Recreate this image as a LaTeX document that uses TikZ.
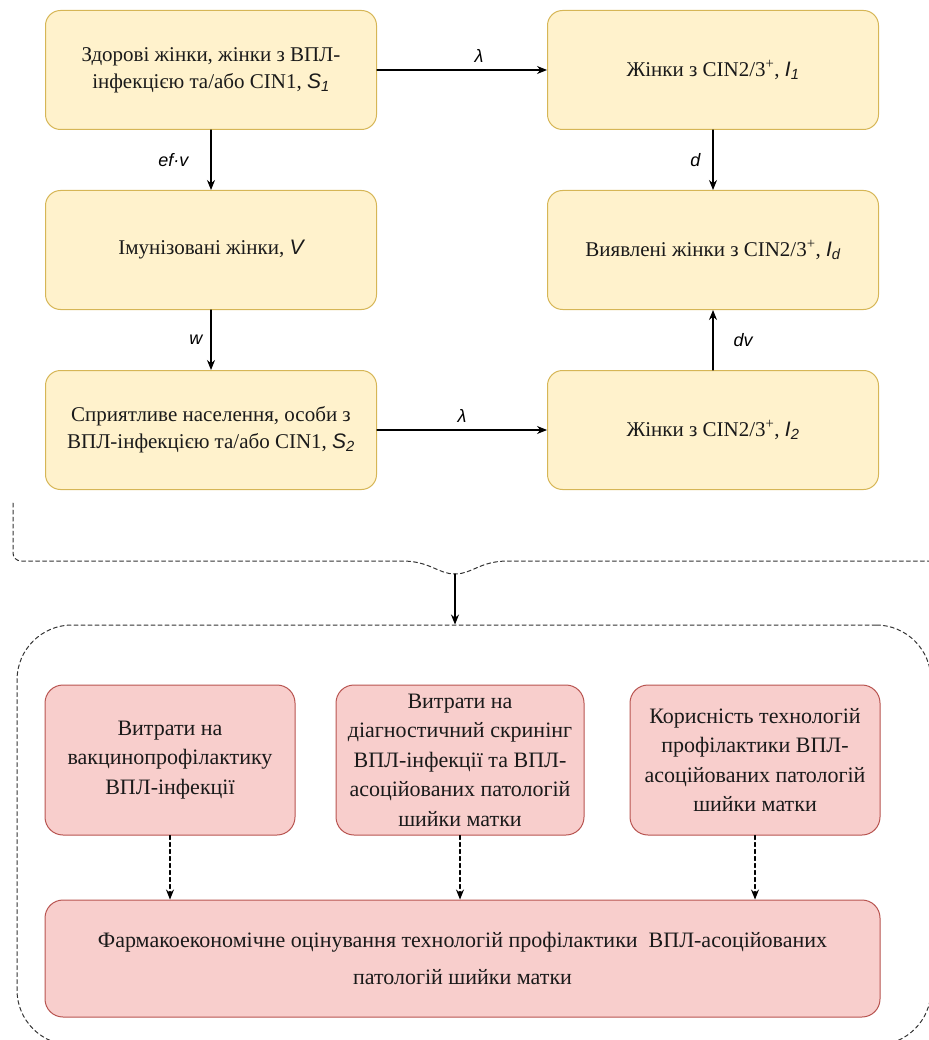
\documentclass[tikz,border=0pt]{standalone}
\usepackage{fontspec}
\setmainfont{Liberation Serif}
\setsansfont{Liberation Sans}
\usepackage{xcolor}
\usepackage{tikz}
\usetikzlibrary{arrows.meta}
\definecolor{stateFill}{HTML}{FFF2CC}
\definecolor{stateLine}{HTML}{D6B656}
\definecolor{costFill}{HTML}{F8CECC}
\definecolor{costLine}{HTML}{B85450}
\definecolor{modelInk}{HTML}{1A1A1A}
\newcommand{\cvar}[2]{{\sffamily\itshape #1\textsubscript{#2}}}

\begin{document}
\begin{tikzpicture}[x=1pt, y=-1pt, line cap=round, line join=round,
  stateBox/.style={draw=stateLine, fill=stateFill, line width=1pt, rounded corners=15pt,
    minimum width=331pt, minimum height=119pt, align=center, text=modelInk,
    font=\fontsize{21}{27}\selectfont},
  costBox/.style={draw=costLine, fill=costFill, line width=1pt, rounded corners=18pt,
    minimum width=250pt, minimum height=150pt, align=center, text=modelInk,
    font=\fontsize{22}{29.5}\selectfont},
  flow/.style={-{Stealth[length=10pt,width=8pt]}, line width=1.1pt},
  feed/.style={flow, dash pattern=on 4pt off 3pt},
  frameLine/.style={line width=1pt, dash pattern=on 4pt off 3pt, draw=black!80},
  rate/.style={font=\fontsize{18}{18}\selectfont\sffamily\itshape, inner sep=0pt}]
  \useasboundingbox (0,0) rectangle (928,1040);

  \node[stateBox] (healthy) at (211,70) {Здорові жінки, жінки з ВПЛ-\\інфекцією та/або CIN1, \cvar{S}{1}};
  \node[stateBox] (caseA) at (713,70) {Жінки з CIN2/3\textsuperscript{+}, \cvar{I}{1}};
  \node[stateBox] (immune) at (211,250) {Імунізовані жінки, {\sffamily\itshape V}};
  \node[stateBox] (found) at (713,250) {Виявлені жінки з CIN2/3\textsuperscript{+}, \cvar{I}{d}};
  \node[stateBox] (suscept) at (211,430) {Сприятливе населення, особи з\\ВПЛ-інфекцією та/або CIN1, \cvar{S}{2}};
  \node[stateBox] (caseB) at (713,430) {Жінки з CIN2/3\textsuperscript{+}, \cvar{I}{2}};

  \draw[flow] (healthy) -- node[rate, above=7pt, pos=0.6] {λ} (caseA);
  \draw[flow] (healthy) -- node[rate, left=22pt] {ef·v} (immune);
  \draw[flow] (immune) -- node[rate, left=8pt] {w} (suscept);
  \draw[flow] (caseA) -- node[rate, left=12pt] {d} (found);
  \draw[flow] (caseB) -- node[rate, right=20pt] {dv} (found);
  \draw[flow] (suscept) -- node[rate, above=7pt] {λ} (caseB);

  % brace under the model, then the evaluation frame
  \coordinate (braceTip) at (455,574);
  \draw[frameLine] (13,503) [rounded corners=8pt] -- (13,561) [sharp corners] -- (402,561)
    .. controls (430,561) and (438,574) .. (braceTip)
    .. controls (472,574) and (480,561) .. (508,561) -- (935,561);
  \node[frameLine, draw, rounded corners=55pt, minimum width=914pt, minimum height=420pt] (evalFrame) at (474,835) {};
  \draw[flow] (braceTip) -- (evalFrame.north -| braceTip);

  \node[costBox] (vaccCost) at (170,760) {Витрати на\\вакцинопрофілактику\\ВПЛ-інфекції};
  \node[costBox, minimum width=248pt] (screenCost) at (460,760) {Витрати на\\діагностичний скринінг\\ВПЛ-інфекції та ВПЛ-\\асоційованих патологій\\шийки матки};
  \node[costBox] (utility) at (755,760) {Корисність технологій\\профілактики ВПЛ-\\асоційованих патологій\\шийки матки};
  \node[costBox, minimum width=835pt, minimum height=117pt, font=\fontsize{22}{37}\selectfont] (evaluation) at (462.5,958.5) {Фармакоекономічне оцінування технологій профілактики\ \ ВПЛ-асоційованих\\патологій шийки матки};

  \foreach \src in {vaccCost, screenCost, utility}
    \draw[feed] (\src) -- (\src |- evaluation.north);
\end{tikzpicture}
\end{document}
